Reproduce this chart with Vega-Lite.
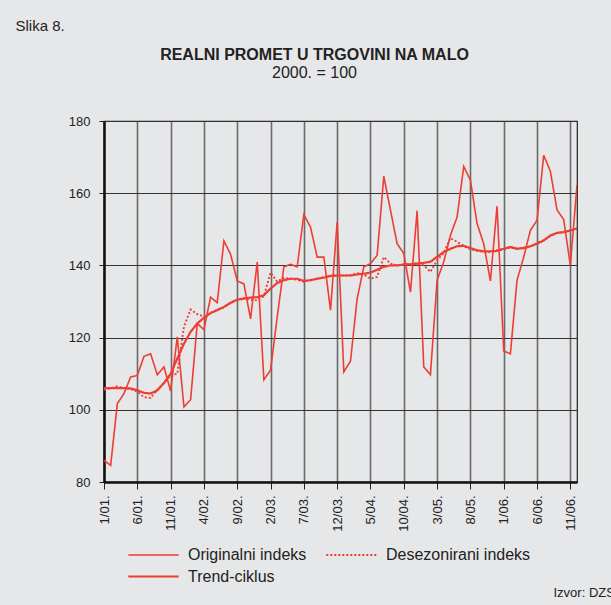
{
  "$schema": "https://vega.github.io/schema/vega-lite/v6.json",
  "width": 473,
  "height": 361,
  "autosize": {"type": "none"},
  "padding": {"left": 104, "top": 121, "right": 34, "bottom": 123},
  "background": "#e6e7e9",
  "config": {
    "font": "Liberation Sans",
    "view": {"stroke": "#222222", "strokeWidth": 1.2, "fill": "#e6e7e9"}
  },
  "title": {
    "text": "REALNI PROMET U TRGOVINI NA MALO",
    "subtitle": "2000. = 100",
    "fontSize": 16,
    "fontWeight": "bold",
    "color": "#222222",
    "subtitleFontSize": 16,
    "subtitleColor": "#222222",
    "subtitlePadding": 2,
    "anchor": "middle",
    "frame": "group",
    "dx": -26,
    "dy": 63,
    "offset": 0
  },
  "data": {
    "values": [
      {"m": "1/01.", "Originalni indeks": 86, "Desezonirani indeks": 105.5, "Trend-ciklus": 106},
      {"m": "2/01.", "Originalni indeks": 84.6, "Desezonirani indeks": 106, "Trend-ciklus": 106},
      {"m": "3/01.", "Originalni indeks": 101.7, "Desezonirani indeks": 106.5, "Trend-ciklus": 106},
      {"m": "4/01.", "Originalni indeks": 104.5, "Desezonirani indeks": 106, "Trend-ciklus": 106},
      {"m": "5/01.", "Originalni indeks": 109.1, "Desezonirani indeks": 105.8, "Trend-ciklus": 105.9},
      {"m": "6/01.", "Originalni indeks": 109.5, "Desezonirani indeks": 105, "Trend-ciklus": 105.4},
      {"m": "7/01.", "Originalni indeks": 114.8, "Desezonirani indeks": 103.5, "Trend-ciklus": 104.7},
      {"m": "8/01.", "Originalni indeks": 115.5, "Desezonirani indeks": 103.3, "Trend-ciklus": 104.5},
      {"m": "9/01.", "Originalni indeks": 109.7, "Desezonirani indeks": 105.5, "Trend-ciklus": 105.4},
      {"m": "10/01.", "Originalni indeks": 111.9, "Desezonirani indeks": 107.5, "Trend-ciklus": 107.4},
      {"m": "11/01.", "Originalni indeks": 105.2, "Desezonirani indeks": 109.5, "Trend-ciklus": 110},
      {"m": "12/01.", "Originalni indeks": 120.2, "Desezonirani indeks": 110, "Trend-ciklus": 114.2},
      {"m": "1/02.", "Originalni indeks": 100.8, "Desezonirani indeks": 123, "Trend-ciklus": 118.3},
      {"m": "2/02.", "Originalni indeks": 102.8, "Desezonirani indeks": 127.8, "Trend-ciklus": 121.6},
      {"m": "3/02.", "Originalni indeks": 123.9, "Desezonirani indeks": 126.5, "Trend-ciklus": 123.9},
      {"m": "4/02.", "Originalni indeks": 122.2, "Desezonirani indeks": 125.8, "Trend-ciklus": 125.5},
      {"m": "5/02.", "Originalni indeks": 131.2, "Desezonirani indeks": 126.8, "Trend-ciklus": 126.8},
      {"m": "6/02.", "Originalni indeks": 129.7, "Desezonirani indeks": 127.8, "Trend-ciklus": 127.6},
      {"m": "7/02.", "Originalni indeks": 146.8, "Desezonirani indeks": 128.3, "Trend-ciklus": 128.5},
      {"m": "8/02.", "Originalni indeks": 143.1, "Desezonirani indeks": 129.8, "Trend-ciklus": 129.6},
      {"m": "9/02.", "Originalni indeks": 135.7, "Desezonirani indeks": 130.5, "Trend-ciklus": 130.5},
      {"m": "10/02.", "Originalni indeks": 134.9, "Desezonirani indeks": 131, "Trend-ciklus": 130.8},
      {"m": "11/02.", "Originalni indeks": 125.2, "Desezonirani indeks": 130.5, "Trend-ciklus": 131.1},
      {"m": "12/02.", "Originalni indeks": 140.9, "Desezonirani indeks": 130.3, "Trend-ciklus": 131.2},
      {"m": "1/03.", "Originalni indeks": 108.3, "Desezonirani indeks": 131.5, "Trend-ciklus": 131.7},
      {"m": "2/03.", "Originalni indeks": 111, "Desezonirani indeks": 138, "Trend-ciklus": 133.6},
      {"m": "3/03.", "Originalni indeks": 125.7, "Desezonirani indeks": 135.5, "Trend-ciklus": 135.1},
      {"m": "4/03.", "Originalni indeks": 139.6, "Desezonirani indeks": 136.5, "Trend-ciklus": 135.9},
      {"m": "5/03.", "Originalni indeks": 140.3, "Desezonirani indeks": 136.3, "Trend-ciklus": 136.3},
      {"m": "6/03.", "Originalni indeks": 139.6, "Desezonirani indeks": 136, "Trend-ciklus": 136.3},
      {"m": "7/03.", "Originalni indeks": 154.1, "Desezonirani indeks": 135.5, "Trend-ciklus": 135.7},
      {"m": "8/03.", "Originalni indeks": 150.6, "Desezonirani indeks": 136, "Trend-ciklus": 135.9},
      {"m": "9/03.", "Originalni indeks": 142.3, "Desezonirani indeks": 136.3, "Trend-ciklus": 136.3},
      {"m": "10/03.", "Originalni indeks": 142.3, "Desezonirani indeks": 136.8, "Trend-ciklus": 136.6},
      {"m": "11/03.", "Originalni indeks": 127.6, "Desezonirani indeks": 137, "Trend-ciklus": 137.1},
      {"m": "12/03.", "Originalni indeks": 152, "Desezonirani indeks": 137.3, "Trend-ciklus": 137.2},
      {"m": "1/04.", "Originalni indeks": 110.5, "Desezonirani indeks": 137.2, "Trend-ciklus": 137.2},
      {"m": "2/04.", "Originalni indeks": 113.5, "Desezonirani indeks": 137.3, "Trend-ciklus": 137.2},
      {"m": "3/04.", "Originalni indeks": 130.8, "Desezonirani indeks": 137.8, "Trend-ciklus": 137.5},
      {"m": "4/04.", "Originalni indeks": 139.6, "Desezonirani indeks": 137.5, "Trend-ciklus": 137.7},
      {"m": "5/04.", "Originalni indeks": 140.5, "Desezonirani indeks": 136.3, "Trend-ciklus": 138},
      {"m": "6/04.", "Originalni indeks": 142.8, "Desezonirani indeks": 136.8, "Trend-ciklus": 138.8},
      {"m": "7/04.", "Originalni indeks": 164.7, "Desezonirani indeks": 142.3, "Trend-ciklus": 139.6},
      {"m": "8/04.", "Originalni indeks": 155.3, "Desezonirani indeks": 140.5, "Trend-ciklus": 140},
      {"m": "9/04.", "Originalni indeks": 146, "Desezonirani indeks": 140, "Trend-ciklus": 140},
      {"m": "10/04.", "Originalni indeks": 143.3, "Desezonirani indeks": 140.3, "Trend-ciklus": 140.2},
      {"m": "11/04.", "Originalni indeks": 132.6, "Desezonirani indeks": 140.3, "Trend-ciklus": 140.3},
      {"m": "12/04.", "Originalni indeks": 155.1, "Desezonirani indeks": 140.6, "Trend-ciklus": 140.5},
      {"m": "1/05.", "Originalni indeks": 111.9, "Desezonirani indeks": 140, "Trend-ciklus": 140.7},
      {"m": "2/05.", "Originalni indeks": 109.7, "Desezonirani indeks": 138.2, "Trend-ciklus": 141},
      {"m": "3/05.", "Originalni indeks": 135.9, "Desezonirani indeks": 141.4, "Trend-ciklus": 142.4},
      {"m": "4/05.", "Originalni indeks": 141, "Desezonirani indeks": 143.5, "Trend-ciklus": 143.7},
      {"m": "5/05.", "Originalni indeks": 148.3, "Desezonirani indeks": 147.6, "Trend-ciklus": 144.6},
      {"m": "6/05.", "Originalni indeks": 153.4, "Desezonirani indeks": 146.5, "Trend-ciklus": 145.3},
      {"m": "7/05.", "Originalni indeks": 167.4, "Desezonirani indeks": 145.4, "Trend-ciklus": 145.4},
      {"m": "8/05.", "Originalni indeks": 163.6, "Desezonirani indeks": 144.5, "Trend-ciklus": 144.8},
      {"m": "9/05.", "Originalni indeks": 151.6, "Desezonirani indeks": 144, "Trend-ciklus": 144.2},
      {"m": "10/05.", "Originalni indeks": 146, "Desezonirani indeks": 143.8, "Trend-ciklus": 143.9},
      {"m": "11/05.", "Originalni indeks": 135.7, "Desezonirani indeks": 143.7, "Trend-ciklus": 143.9},
      {"m": "12/05.", "Originalni indeks": 156.4, "Desezonirani indeks": 144.2, "Trend-ciklus": 144},
      {"m": "1/06.", "Originalni indeks": 116.3, "Desezonirani indeks": 144.5, "Trend-ciklus": 144.6},
      {"m": "2/06.", "Originalni indeks": 115.5, "Desezonirani indeks": 145, "Trend-ciklus": 145.1},
      {"m": "3/06.", "Originalni indeks": 135.9, "Desezonirani indeks": 144.6, "Trend-ciklus": 144.6},
      {"m": "4/06.", "Originalni indeks": 142.3, "Desezonirani indeks": 144.9, "Trend-ciklus": 144.8},
      {"m": "5/06.", "Originalni indeks": 149.7, "Desezonirani indeks": 145.2, "Trend-ciklus": 145.3},
      {"m": "6/06.", "Originalni indeks": 152.5, "Desezonirani indeks": 146.2, "Trend-ciklus": 146},
      {"m": "7/06.", "Originalni indeks": 170.5, "Desezonirani indeks": 147, "Trend-ciklus": 146.9},
      {"m": "8/06.", "Originalni indeks": 166.1, "Desezonirani indeks": 148.1, "Trend-ciklus": 148.3},
      {"m": "9/06.", "Originalni indeks": 155.4, "Desezonirani indeks": 149, "Trend-ciklus": 149},
      {"m": "10/06.", "Originalni indeks": 152.7, "Desezonirani indeks": 149.2, "Trend-ciklus": 149.2},
      {"m": "11/06.", "Originalni indeks": 140, "Desezonirani indeks": 149.6, "Trend-ciklus": 149.7},
      {"m": "12/06.", "Originalni indeks": 162.2, "Desezonirani indeks": 150.3, "Trend-ciklus": 150.2}
    ]
  },
  "transform": [
    {"fold": ["Originalni indeks", "Desezonirani indeks", "Trend-ciklus"], "as": ["serija", "vrijednost"]}
  ],
  "mark": {"type": "line", "strokeJoin": "miter", "clip": true},
  "encoding": {
    "x": {
      "field": "m",
      "type": "ordinal",
      "sort": null,
      "scale": {"type": "point", "padding": 0},
      "axis": {
        "values": ["1/01.", "6/01.", "11/01.", "4/02.", "9/02.", "2/03.", "7/03.", "12/03.", "5/04.", "10/04.", "3/05.", "8/05.", "1/06.", "6/06.", "11/06."],
        "labelAngle": -90,
        "labelFontSize": 13,
        "labelColor": "#222222",
        "labelPadding": 6,
        "tickSize": 7,
        "tickColor": "#222222",
        "tickWidth": 1,
        "domainColor": "#111111",
        "domainWidth": 2.5,
        "grid": true,
        "gridColor": "#6a6a6a",
        "gridWidth": 1.6,
        "title": "Izvor: DZS",
        "titleFontSize": 13,
        "titleFontWeight": "normal",
        "titleColor": "#222222",
        "titleAnchor": "start",
        "titleAlign": "left",
        "titleBaseline": "middle",
        "titleX": 449,
        "titleY": 110
      }
    },
    "y": {
      "field": "vrijednost",
      "type": "quantitative",
      "scale": {"domain": [80, 180], "nice": false, "zero": false},
      "axis": {
        "values": [80, 100, 120, 140, 160, 180],
        "labelFontSize": 13,
        "labelColor": "#222222",
        "labelPadding": 9,
        "tickSize": 5,
        "tickColor": "#222222",
        "domainColor": "#111111",
        "domainWidth": 2.5,
        "grid": true,
        "gridColor": "#333333",
        "gridWidth": 1,
        "title": "Slika 8.",
        "titleFontSize": 15,
        "titleFontWeight": "normal",
        "titleColor": "#222222",
        "titleAngle": 0,
        "titleAlign": "left",
        "titleBaseline": "middle",
        "titleX": -89,
        "titleY": -96
      }
    },
    "color": {
      "field": "serija",
      "type": "nominal",
      "scale": {"domain": ["Originalni indeks", "Desezonirani indeks", "Trend-ciklus"], "range": ["#ee3d33", "#ee3d33", "#ee3d33"]},
      "legend": {
        "title": null,
        "orient": "none",
        "direction": "horizontal",
        "legendX": 36,
        "legendY": 421,
        "columns": 2,
        "columnPadding": 15,
        "rowPadding": 0,
        "padding": 0,
        "symbolType": "M-2.1,0H2.1",
        "symbolSize": 576,
        "symbolFillColor": "transparent",
        "labelFontSize": 16,
        "labelColor": "#222222",
        "labelOffset": 21
      }
    },
    "strokeDash": {
      "field": "serija",
      "type": "nominal",
      "scale": {"domain": ["Originalni indeks", "Desezonirani indeks", "Trend-ciklus"], "range": [[1, 0], [2, 2], [1, 0]]},
      "legend": {
        "title": null,
        "orient": "none",
        "direction": "horizontal",
        "legendX": 36,
        "legendY": 421,
        "columns": 2,
        "columnPadding": 15,
        "rowPadding": 0,
        "padding": 0,
        "symbolType": "M-2.1,0H2.1",
        "symbolSize": 576,
        "symbolFillColor": "transparent",
        "labelFontSize": 16,
        "labelColor": "#222222",
        "labelOffset": 21
      }
    },
    "strokeWidth": {
      "field": "serija",
      "type": "nominal",
      "scale": {"domain": ["Originalni indeks", "Desezonirani indeks", "Trend-ciklus"], "range": [1.6, 2.2, 5]},
      "legend": {
        "title": null,
        "orient": "none",
        "direction": "horizontal",
        "legendX": 36,
        "legendY": 421,
        "columns": 2,
        "columnPadding": 15,
        "rowPadding": 0,
        "padding": 0,
        "symbolType": "M-2.1,0H2.1",
        "symbolSize": 576,
        "symbolFillColor": "transparent",
        "labelFontSize": 16,
        "labelColor": "#222222",
        "labelOffset": 21
      }
    }
  }
}
